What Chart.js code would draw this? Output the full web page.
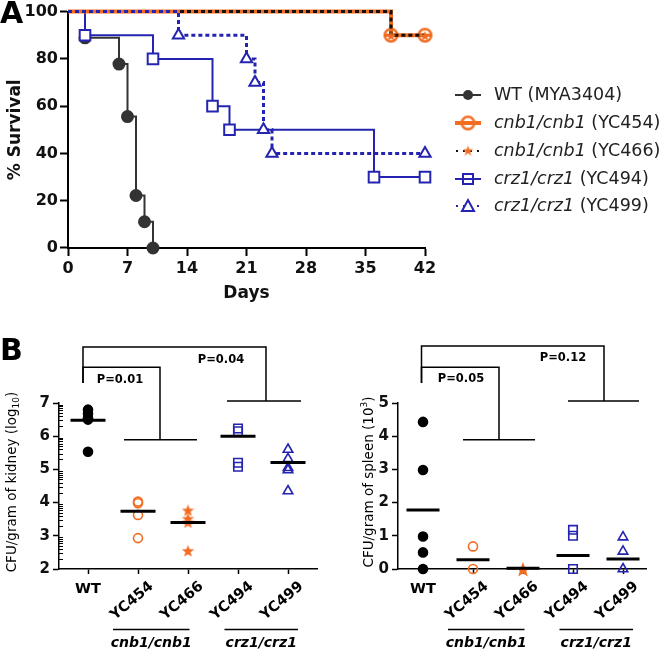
<!DOCTYPE html>
<html>
<head>
<meta charset="utf-8">
<script src="https://cdn.jsdelivr.net/npm/chart.js@4.4.1/dist/chart.umd.min.js"></script>
<style>
html, body { margin: 0; padding: 0; background: #fff; }
#wrap { position: relative; width: 666px; height: 651px; overflow: hidden; }
#wrap canvas { position: absolute; left: 0; top: 0; }
</style>
</head>
<body>
<div id="wrap">
  <canvas id="chart-surv" width="666" height="651"></canvas>
  <canvas id="chart-kidney" width="666" height="651"></canvas>
  <canvas id="chart-spleen" width="666" height="651"></canvas>
</div>
<script>
// ---- panel A : survival ----
const DAY_TICKS = [0, 7, 14, 21, 28, 35, 42];
const WT_DAYS = [0, 2, 6, 7, 8, 9, 10];
const WT_SURV = [100, 88.9, 77.8, 55.6, 22.2, 11.1, 0];
const YC454_DAYS = [0, 38, 42];
const YC454_SURV = [100, 90, 90];
const YC466_DAYS = [0, 38, 42];
const YC466_SURV = [100, 90, 90];
const YC494_DAYS = [0, 2, 10, 17, 19, 36, 42];
const YC494_SURV = [100, 90, 80, 60, 50, 30, 30];
const YC499_DAYS = [0, 13, 21, 22, 23, 24, 42];
const YC499_SURV = [100, 90, 80, 70, 50, 40, 40];
const LEGEND_ITALIC = ['', 'cnb1/cnb1', 'cnb1/cnb1', 'crz1/crz1', 'crz1/crz1'];
const LEGEND_TEXT = ['WT (MYA3404)', ' (YC454)', ' (YC466)', ' (YC494)', ' (YC499)'];

// ---- panel B : fungal burden ----
const STRAINS = ['WT', 'YC454', 'YC466', 'YC494', 'YC499'];
const GROUP_NAMES = ['cnb1/cnb1', 'crz1/crz1'];
const KIDNEY = [
    [6.8, 6.68, 6.55, 6.5, 5.53],
    [4.03, 3.98, 3.63, 2.93],
    [3.78, 3.53, 3.42, 2.56],
    [6.23, 6.15, 5.2, 5.08],
    [5.6, 5.32, 5.05, 4.98, 4.35]
];
const KIDNEY_MEAN = [6.48, 3.74, 3.4, 6.0, 5.21];
const SPLEEN = [
    [4.43, 2.98, 0.98, 0.5, 0],
    [0.68, 0],
    [0],
    [1.18, 1.0, 0],
    [0.96, 0.53, 0]
];
const SPLEEN_MEAN = [1.78, 0.28, 0.02, 0.41, 0.3];
const P_KIDNEY = ['P=0.01', 'P=0.04'];
const P_SPLEEN = ['P=0.05', 'P=0.12'];

const FONT = '"DejaVu Sans", sans-serif';
const GREY = '#333333';
const ORANGE = '#f26c22';
const BLUE = '#2424b0';
const DEG = Math.PI / 180;

// comparison brackets (data units of each chart)
const BRK_KIDNEY = [
    { x0: -0.1, x1: 1.44, top: 8.08, bottom: 7.6, g0: 0.72, g1: 2.18, gy: 5.89, px: 0.64, py: 7.68 },
    { x0: -0.1, x1: 3.56, top: 8.69, bottom: 7.6, g0: 2.78, g1: 4.26, gy: 7.06, px: 2.66, py: 8.28 }
];
const BRK_SPLEEN = [
    { x0: -0.03, x1: 1.52, top: 6.08, bottom: 5.6, g0: 0.8, g1: 2.24, gy: 3.89, px: 0.76, py: 5.72 },
    { x0: -0.03, x1: 3.62, top: 6.72, bottom: 5.6, g0: 2.9, g1: 4.32, gy: 5.06, px: 2.8, py: 6.36 }
];
const GROUP_SPAN = [[0.5, 2.03], [2.73, 4.2]];

function starImg(size, color) {
    const c = document.createElement('canvas');
    c.width = c.height = size;
    const g = c.getContext('2d');
    g.fillStyle = color;
    g.beginPath();
    for (let k = 0; k < 10; k++) {
        const r = k % 2 ? size * 0.21 : size * 0.5;
        const a = -Math.PI / 2 + k * Math.PI / 5;
        g.lineTo(size / 2 + r * Math.cos(a), size / 2 + 1 + r * Math.sin(a));
    }
    g.closePath();
    g.fill();
    return c;
}

function circleBarImg() {
    const c = document.createElement('canvas');
    c.width = c.height = 17;
    const g = c.getContext('2d');
    g.strokeStyle = ORANGE;
    g.lineWidth = 2.5;
    g.beginPath(); g.arc(8.5, 8.5, 6.3, 0, Math.PI * 2); g.stroke();
    g.lineWidth = 3;
    g.beginPath(); g.moveTo(1, 8.5); g.lineTo(16, 8.5); g.stroke();
    return c;
}

const IMG_CIRCLEBAR = circleBarImg();
const IMG_STAR_A = starImg(11, ORANGE);
const IMG_STAR_K = starImg(13, ORANGE);
const IMG_STAR_S = starImg(16, ORANGE);

function pts(xs, ys) { return xs.map((x, i) => ({ x: x, y: ys[i] })); }

function survSet(days, surv, o) {
    return Object.assign({
        data: pts(days, surv),
        showLine: true,
        stepped: true,
        clip: false,
        fill: false,
        pointRadius: days.map((d, i) => i === 0 ? 0 : o.r),
        pointBorderWidth: 2,
        pointBackgroundColor: '#fff'
    }, o);
}

// legend + panel letter for A
const survDeco = {
    id: 'survDeco',
    afterDraw(chart) {
        const ctx = chart.ctx;
        ctx.save();
        ctx.fillStyle = '#000';
        ctx.font = 'bold 30px ' + FONT;
        ctx.textBaseline = 'alphabetic';
        ctx.fillText('A', 0, 23);

        const rows = [95, 123, 151, 179, 206];
        const sx = 468;
        rows.forEach((y, i) => {
            ctx.save();
            ctx.lineCap = 'butt';
            if (i === 0) {
                ctx.strokeStyle = GREY; ctx.lineWidth = 2;
                ctx.beginPath(); ctx.moveTo(455, y); ctx.lineTo(481, y); ctx.stroke();
                ctx.fillStyle = GREY; ctx.beginPath(); ctx.arc(sx, y, 5, 0, Math.PI * 2); ctx.fill();
            } else if (i === 1) {
                ctx.strokeStyle = ORANGE; ctx.lineWidth = 4;
                ctx.beginPath(); ctx.moveTo(455, y); ctx.lineTo(481, y); ctx.stroke();
                ctx.drawImage(IMG_CIRCLEBAR, sx - 8.5, y - 8.5);
            } else if (i === 2) {
                ctx.strokeStyle = '#111'; ctx.lineWidth = 2; ctx.setLineDash([2, 5]);
                ctx.beginPath(); ctx.moveTo(456, y); ctx.lineTo(482, y); ctx.stroke();
                ctx.drawImage(IMG_STAR_A, sx - 5.5, y - 6.5);
            } else if (i === 3) {
                ctx.strokeStyle = BLUE; ctx.lineWidth = 2;
                ctx.beginPath(); ctx.moveTo(455, y); ctx.lineTo(481, y); ctx.stroke();
                ctx.strokeRect(sx - 5, y - 5, 10, 10);
            } else {
                ctx.strokeStyle = BLUE; ctx.lineWidth = 2; ctx.setLineDash([2, 5]);
                ctx.beginPath(); ctx.moveTo(456, y); ctx.lineTo(482, y); ctx.stroke();
                ctx.setLineDash([]);
                ctx.fillStyle = '#fff';
                ctx.beginPath(); ctx.moveTo(sx, y - 6); ctx.lineTo(sx + 6, y + 5); ctx.lineTo(sx - 6, y + 5); ctx.closePath();
                ctx.fill(); ctx.stroke();
            }
            ctx.restore();
            ctx.fillStyle = '#222';
            ctx.textBaseline = 'middle';
            let x = 494;
            if (LEGEND_ITALIC[i]) {
                ctx.font = 'italic 17.5px ' + FONT;
                ctx.fillText(LEGEND_ITALIC[i], x, y);
                x += ctx.measureText(LEGEND_ITALIC[i]).width;
            }
            ctx.font = '17.5px ' + FONT;
            ctx.fillText(LEGEND_TEXT[i], x, y);
        });
        ctx.restore();
    }
};

new Chart(document.getElementById('chart-surv'), {
    type: 'scatter',
    data: {
        datasets: [
            survSet(YC499_DAYS, YC499_SURV, { borderColor: BLUE, pointBorderColor: BLUE, borderWidth: 3, borderDash: [4, 3], pointStyle: 'triangle', r: 6.5, order: 0 }),
            survSet(YC466_DAYS, YC466_SURV, { borderColor: '#111', pointBorderColor: ORANGE, borderWidth: 3, borderDash: [4, 3], pointStyle: IMG_STAR_A, r: 5, order: 1 }),
            survSet(YC454_DAYS, YC454_SURV, { borderColor: ORANGE, pointBorderColor: ORANGE, borderWidth: 4, pointStyle: IMG_CIRCLEBAR, r: 7, order: 2 }),
            survSet(YC494_DAYS, YC494_SURV, { borderColor: BLUE, pointBorderColor: BLUE, borderWidth: 2, pointStyle: 'rect', r: 7.5, order: 3 }),
            survSet(WT_DAYS, WT_SURV, { borderColor: GREY, pointBorderColor: GREY, pointBackgroundColor: GREY, borderWidth: 2, pointStyle: 'circle', r: 5.5, order: 4 })
        ]
    },
    options: {
        responsive: false,
        devicePixelRatio: 1,
        animation: false,
        layout: { padding: { left: 0, top: 11, right: 241, bottom: 347 } },
        plugins: { legend: { display: false }, tooltip: { enabled: false } },
        scales: {
            x: {
                type: 'linear', min: 0, max: 42,
                afterBuildTicks: s => { s.ticks = DAY_TICKS.map(v => ({ value: v })); },
                afterFit: s => { s.height = 56; },
                border: { display: true, color: '#000', width: 2 },
                grid: { drawOnChartArea: false, drawTicks: true, tickLength: 8, tickWidth: 2, color: '#000' },
                ticks: { color: '#111', font: { family: FONT, size: 16, weight: 'bold' }, padding: 3, maxRotation: 0 },
                title: { display: true, text: 'Days', color: '#111', font: { family: FONT, size: 17, weight: 'bold' }, padding: 0 }
            },
            y: {
                min: 0, max: 100,
                afterFit: s => { s.width = 68; },
                border: { display: true, color: '#000', width: 2 },
                grid: { drawOnChartArea: false, drawTicks: true, tickLength: 8, tickWidth: 2, color: '#000' },
                ticks: { stepSize: 20, color: '#111', font: { family: FONT, size: 16, weight: 'bold' }, padding: 2 },
                title: { display: true, text: '% Survival', color: '#111', font: { family: FONT, size: 17, weight: 'bold' }, padding: { top: 5 } }
            }
        }
    },
    plugins: [survDeco]
});

// ---- panel B helpers ----
const bDeco = {
    id: 'bDeco',
    afterDraw(chart, args, o) {
        const ctx = chart.ctx;
        const xs = chart.scales.x, ys = chart.scales.y;
        const X = v => xs.getPixelForValue(v), Y = v => ys.getPixelForValue(v);
        const axisY = ys.bottom;
        ctx.save();
        ctx.fillStyle = '#000';
        ctx.strokeStyle = '#000';

        if (o.letter) {
            ctx.font = 'bold 30px ' + FONT;
            ctx.textBaseline = 'alphabetic';
            ctx.textAlign = 'left';
            ctx.fillText(o.letter, 0, 360);
        }

        // minor ticks for log axis
        if (o.minor) {
            ctx.lineWidth = 1;
            for (let k = Math.ceil(ys.min); k < ys.max; k++) {
                for (let m = 2; m <= 9; m++) {
                    const py = Math.round(Y(k + Math.log10(m))) + 0.5;
                    ctx.beginPath(); ctx.moveTo(xs.left, py); ctx.lineTo(xs.left + 4, py); ctx.stroke();
                }
            }
        }

        // category labels
        ctx.font = 'bold 14.5px ' + FONT;
        STRAINS.forEach((s, i) => {
            if (i === 0) {
                ctx.textAlign = 'center'; ctx.textBaseline = 'top';
                ctx.fillText(s, X(0), axisY + 13);
            } else {
                ctx.save();
                ctx.translate(X(i) + 9, axisY + 10);
                ctx.rotate(-40 * DEG);
                ctx.textAlign = 'right'; ctx.textBaseline = 'top';
                ctx.fillText(s, 0, 0);
                ctx.restore();
            }
        });

        // group underlines and names
        ctx.lineWidth = 1.5;
        ctx.font = 'bold italic 14px ' + FONT;
        ctx.textAlign = 'center'; ctx.textBaseline = 'middle';
        GROUP_SPAN.forEach((g, i) => {
            ctx.beginPath(); ctx.moveTo(X(g[0]), 629.5); ctx.lineTo(X(g[1]), 629.5); ctx.stroke();
            ctx.fillText(GROUP_NAMES[i], (X(g[0]) + X(g[1])) / 2, 643);
        });

        // comparison brackets
        ctx.font = 'bold 11.5px ' + FONT;
        o.brackets.forEach((b, i) => {
            ctx.beginPath();
            ctx.moveTo(X(b.x0), Y(b.bottom));
            ctx.lineTo(X(b.x0), Y(b.top));
            ctx.lineTo(X(b.x1), Y(b.top));
            ctx.lineTo(X(b.x1), Y(b.gy));
            ctx.moveTo(X(b.g0), Y(b.gy));
            ctx.lineTo(X(b.g1), Y(b.gy));
            ctx.stroke();
            ctx.fillText(o.pvals[i], X(b.px), Y(b.py));
        });

        // y title with sub/superscript
        ctx.save();
        ctx.translate(o.titleX, (ys.top + ys.bottom) / 2 - 4);
        ctx.rotate(-90 * DEG);
        ctx.textBaseline = 'alphabetic'; ctx.textAlign = 'left';
        const parts = o.title;
        const fonts = parts.map(p => (p.sub || p.sup) ? '9px ' + FONT : '13.5px ' + FONT);
        let w = 0;
        parts.forEach((p, i) => { ctx.font = fonts[i]; w += ctx.measureText(p.t).width; });
        let x = -w / 2;
        parts.forEach((p, i) => {
            ctx.font = fonts[i];
            const dy = p.sub ? 3 : p.sup ? -6 : 0;
            ctx.fillText(p.t, x, 5 + dy);
            x += ctx.measureText(p.t).width;
        });
        ctx.restore();
        ctx.restore();
    }
};

const MARKERS = [
    { pointStyle: 'circle', r: 4.5, fill: '#000', stroke: '#000' },
    { pointStyle: 'circle', r: 4.5, fill: 'rgba(0,0,0,0)', stroke: ORANGE },
    { pointStyle: 'star', r: 6, fill: ORANGE, stroke: ORANGE },
    { pointStyle: 'rect', r: 6, fill: 'rgba(0,0,0,0)', stroke: BLUE },
    { pointStyle: 'triangle', r: 5.5, fill: 'rgba(0,0,0,0)', stroke: BLUE }
];

function burdenChart(id, values, means, o) {
    const sets = values.map((vals, i) => ({
        data: vals.map(v => ({ x: i, y: v })),
        pointStyle: MARKERS[i].pointStyle === 'star' ? o.star : MARKERS[i].pointStyle,
        pointRadius: MARKERS[i].r,
        pointBackgroundColor: MARKERS[i].fill,
        pointBorderColor: MARKERS[i].stroke,
        pointBorderWidth: 1.6,
        clip: false,
        order: 1
    }));
    sets.push({
        data: means.map((v, i) => ({ x: i, y: v })),
        pointStyle: 'line',
        pointRadius: o.meanHalf,
        pointBorderColor: '#000',
        pointBorderWidth: 3,
        clip: false,
        order: 0
    });
    return new Chart(document.getElementById(id), {
        type: 'scatter',
        data: { datasets: sets },
        options: {
            responsive: false,
            devicePixelRatio: 1,
            animation: false,
            layout: { padding: o.padding },
            plugins: {
                legend: { display: false }, tooltip: { enabled: false },
                bDeco: o.deco
            },
            scales: {
                x: {
                    type: 'linear', min: o.xmin, max: o.xmax,
                    afterBuildTicks: s => { s.ticks = STRAINS.map((c, i) => ({ value: i })); },
                    afterFit: s => { s.height = 10; },
                    border: { display: true, color: '#000', width: 1.5 },
                    grid: { drawOnChartArea: false, drawTicks: true, tickLength: 5, tickWidth: 1.5, color: '#000' },
                    ticks: { callback: () => '' }
                },
                y: {
                    min: o.ymin, max: o.ymax,
                    afterFit: s => { s.width = o.yWidth; },
                    border: { display: true, color: '#000', width: 1.5 },
                    grid: { drawOnChartArea: false, drawTicks: true, tickLength: 6, tickWidth: 1.5, color: '#000' },
                    ticks: { stepSize: 1, color: '#111', font: { family: FONT, size: 15, weight: 'bold' }, padding: 3 }
                }
            }
        },
        plugins: [bDeco]
    });
}

burdenChart('chart-kidney', KIDNEY, KIDNEY_MEAN, {
    padding: { left: 0, top: 403, right: 349, bottom: 72 },
    yWidth: 59, xmin: -0.58, xmax: 4.58, ymin: 2, ymax: 7,
    star: IMG_STAR_K, meanHalf: 17.5,
    deco: {
        letter: 'B', minor: true, brackets: BRK_KIDNEY, pvals: P_KIDNEY, titleX: 11,
        title: [{ t: 'CFU/gram of kidney (log' }, { t: '10', sub: true }, { t: ')' }]
    }
});

burdenChart('chart-spleen', SPLEEN, SPLEEN_MEAN, {
    padding: { left: 358, top: 403, right: 19, bottom: 72 },
    yWidth: 40, xmin: -0.5, xmax: 4.47, ymin: 0, ymax: 5,
    star: IMG_STAR_S, meanHalf: 16.5,
    deco: {
        letter: '', minor: false, brackets: BRK_SPLEEN, pvals: P_SPLEEN, titleX: 368,
        title: [{ t: 'CFU/gram of spleen (10' }, { t: '3', sup: true }, { t: ')' }]
    }
});
</script>
</body>
</html>
